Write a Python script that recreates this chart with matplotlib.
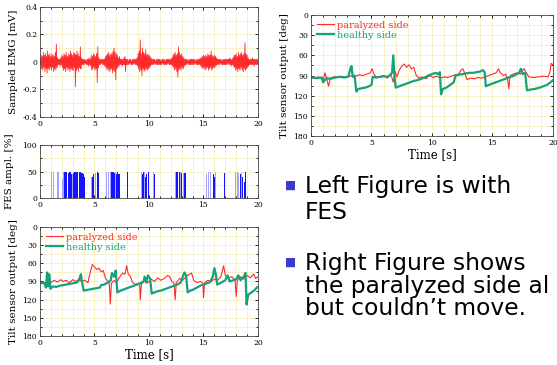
import matplotlib
matplotlib.use("Agg")
import matplotlib.pyplot as plt
from matplotlib.ticker import MultipleLocator
import numpy as np

# ---- data ----
# EMG envelope, one value every 0.1 s from 0 to 20 s
emg_top = [0.02, 0.05, 0.04, 0.07, 0.05, 0.06, 0.04, 0.08, 0.05, 0.06,
           0.04, 0.06, 0.05, 0.04, 0.07, 0.13, 0.03, 0.02, 0.02, 0.03,
           0.05, 0.04, 0.06, 0.05, 0.07, 0.04, 0.06, 0.05, 0.08, 0.06,
           0.05, 0.07, 0.06, 0.05, 0.08, 0.06, 0.04, 0.11, 0.03, 0.02,
           0.02, 0.02, 0.01, 0.02, 0.02, 0.03, 0.02, 0.05, 0.04, 0.06,
           0.05, 0.04, 0.06, 0.11, 0.03, 0.02, 0.02, 0.02, 0.02, 0.02,
           0.04, 0.05, 0.06, 0.07, 0.05, 0.06, 0.06, 0.08, 0.10, 0.07,
           0.06, 0.05, 0.03, 0.04, 0.02, 0.02, 0.02, 0.03, 0.04, 0.02,
           0.02, 0.01, 0.02, 0.02, 0.01, 0.02, 0.02, 0.02, 0.02, 0.03,
           0.06, 0.08, 0.16, 0.06, 0.10, 0.07, 0.06, 0.09, 0.05, 0.06,
           0.05, 0.04, 0.03, 0.02, 0.02, 0.02, 0.01, 0.02, 0.02, 0.02,
           0.02, 0.01, 0.02, 0.02, 0.02, 0.01, 0.02, 0.02, 0.02, 0.02,
           0.02, 0.03, 0.05, 0.06, 0.07, 0.05, 0.06, 0.11, 0.07, 0.05,
           0.06, 0.04, 0.03, 0.02, 0.02, 0.02, 0.01, 0.02, 0.02, 0.02,
           0.02, 0.02, 0.02, 0.01, 0.02, 0.02, 0.02, 0.03, 0.03, 0.04,
           0.05, 0.04, 0.05, 0.04, 0.06, 0.05, 0.05, 0.08, 0.05, 0.04,
           0.05, 0.04, 0.03, 0.02, 0.02, 0.02, 0.02, 0.01, 0.02, 0.02,
           0.02, 0.02, 0.02, 0.02, 0.03, 0.02, 0.02, 0.03, 0.05, 0.05,
           0.06, 0.04, 0.07, 0.05, 0.06, 0.07, 0.05, 0.06, 0.14, 0.06,
           0.05, 0.03, 0.02, 0.02, 0.02, 0.03, 0.02, 0.02, 0.02, 0.02, 0.02]
emg_bottom = [-0.02, -0.05, -0.06, -0.04, -0.07, -0.05, -0.08, -0.05, -0.06, -0.04,
              -0.06, -0.04, -0.07, -0.05, -0.06, -0.04, -0.02, -0.02, -0.03, -0.02,
              -0.04, -0.06, -0.05, -0.07, -0.04, -0.06, -0.05, -0.07, -0.05, -0.06,
              -0.06, -0.04, -0.18, -0.06, -0.05, -0.07, -0.04, -0.05, -0.02, -0.02,
              -0.02, -0.01, -0.02, -0.02, -0.03, -0.02, -0.03, -0.06, -0.05, -0.04,
              -0.06, -0.05, -0.15, -0.04, -0.02, -0.02, -0.01, -0.02, -0.02, -0.03,
              -0.04, -0.06, -0.05, -0.07, -0.06, -0.05, -0.08, -0.06, -0.07, -0.13,
              -0.05, -0.04, -0.03, -0.02, -0.02, -0.03, -0.02, -0.02, -0.07, -0.02,
              -0.02, -0.02, -0.01, -0.02, -0.02, -0.02, -0.01, -0.02, -0.02, -0.03,
              -0.05, -0.07, -0.06, -0.10, -0.05, -0.07, -0.06, -0.05, -0.06, -0.05,
              -0.04, -0.03, -0.02, -0.02, -0.02, -0.01, -0.02, -0.02, -0.02, -0.02,
              -0.02, -0.02, -0.01, -0.02, -0.02, -0.02, -0.02, -0.01, -0.02, -0.02,
              -0.02, -0.03, -0.04, -0.06, -0.05, -0.07, -0.11, -0.06, -0.05, -0.06,
              -0.04, -0.05, -0.03, -0.02, -0.02, -0.01, -0.02, -0.02, -0.02, -0.02,
              -0.02, -0.02, -0.01, -0.02, -0.02, -0.02, -0.02, -0.03, -0.04, -0.05,
              -0.04, -0.06, -0.05, -0.04, -0.06, -0.05, -0.04, -0.06, -0.05, -0.04,
              -0.04, -0.03, -0.02, -0.02, -0.02, -0.01, -0.02, -0.02, -0.02, -0.02,
              -0.02, -0.02, -0.01, -0.02, -0.02, -0.03, -0.02, -0.03, -0.04, -0.06,
              -0.05, -0.07, -0.05, -0.06, -0.04, -0.06, -0.07, -0.05, -0.06, -0.05,
              -0.04, -0.03, -0.02, -0.02, -0.02, -0.02, -0.03, -0.02, -0.02, -0.02, -0.02]
emg_time = np.arange(len(emg_top)) * 0.1

# FES pulses: time [s], amplitude [%]
fes_dark_t = [2.3, 2.45, 2.6, 2.75, 2.9, 3.1, 3.2, 3.3, 3.45, 3.65, 3.75, 3.85, 3.95, 4.1,
              4.8, 4.9, 5.3, 5.35, 6.6, 6.75, 6.85, 7.0, 7.1, 7.25, 8.0,
              9.4, 9.5, 9.7, 9.8, 9.95, 10.5, 12.5, 12.65, 12.8, 13.0, 13.3,
              15.9, 16.0, 16.9, 18.4, 18.6, 18.75, 18.85]
fes_dark_h = [50, 50, 48, 50, 45, 48, 50, 50, 50, 50, 50, 48, 45, 40,
              40, 45, 50, 48, 50, 50, 48, 45, 50, 45, 50,
              45, 50, 40, 45, 50, 45, 50, 50, 50, 48, 47,
              45, 40, 47, 45, 40, 30, 50]
fes_light_t = [1.05, 1.2, 1.65, 2.05, 2.2, 2.95, 4.7, 5.1, 6.1, 6.25, 6.5, 6.9,
               9.3, 9.6, 10.4, 12.4, 12.9, 13.2, 15.3, 15.5, 15.65, 16.1,
               17.95, 18.1, 18.25, 18.5]
fes_light_h = [50, 50, 50, 35, 50, 45, 40, 48, 50, 50, 50, 50,
               50, 50, 50, 50, 50, 48, 45, 50, 50, 50,
               50, 50, 48, 50]

# tilt sensor, with FES (left panel)
fes_par_t = [0.0, 0.3, 0.5, 0.7, 0.8, 0.9, 1.0, 1.3, 1.6, 1.9, 2.1, 2.4, 2.7, 3.0, 3.3, 3.6,
             3.8, 4.1, 4.4, 4.6, 4.8, 5.0, 5.2, 5.4, 5.6, 5.8, 6.0, 6.2, 6.35, 6.45, 6.55,
             6.8, 7.0, 7.2, 7.4, 7.6, 7.8, 7.95, 8.1, 8.3, 8.5, 8.8, 9.0, 9.15, 9.2, 9.3,
             9.6, 9.9, 10.2, 10.5, 10.8, 11.1, 11.4, 11.7, 11.9, 12.1, 12.3, 12.4, 12.5,
             12.8, 13.1, 13.4, 13.7, 13.9, 14.1, 14.4, 14.7, 14.95, 15.0, 15.1, 15.4,
             15.7, 16.0, 16.3, 16.6, 16.85, 17.0, 17.3, 17.6, 17.9, 18.0, 18.1, 18.4,
             18.7, 19.0, 19.3, 19.6, 19.8, 20.0]
fes_par_v = [92, 91, 93, 90, 97, 85, 92, 88, 91, 87, 90, 88, 92, 87, 90, 86,
             90, 88, 92, 75, 62, 66, 70, 68, 74, 72, 84, 90, 92, 127, 93,
             88, 92, 86, 80, 76, 78, 64, 78, 82, 92, 95, 93, 96, 120, 95,
             88, 92, 86, 90, 84, 88, 85, 80, 82, 90, 93, 120, 92,
             85, 88, 82, 78, 76, 88, 92, 90, 93, 117, 92, 88,
             90, 86, 88, 82, 64, 80, 84, 82, 88, 115, 88, 82,
             86, 80, 84, 78, 85, 82]
fes_hea_t = [0.0, 0.4, 0.55, 0.65, 0.75, 0.85, 0.95, 1.2, 1.5, 1.8, 2.1, 2.4, 2.7, 3.0,
             3.3, 3.5, 3.6, 3.75, 3.85, 4.0, 4.3, 4.6, 4.9, 5.2, 5.5, 5.6, 5.9, 6.2,
             6.5, 6.6, 6.8, 6.95, 7.1, 7.4, 7.7, 8.0, 8.3, 8.6, 8.9, 9.2, 9.5, 9.6,
             9.75, 9.9, 10.1, 10.25, 10.5, 10.8, 11.1, 11.4, 11.7, 12.0, 12.3, 12.6,
             12.9, 13.1, 13.25, 13.4, 13.55, 13.8, 14.1, 14.4, 14.7, 15.0, 15.3, 15.6,
             15.85, 16.0, 16.15, 16.25, 16.5, 16.8, 17.0, 17.2, 17.4, 17.7, 18.0, 18.2,
             18.4, 18.7, 18.85, 18.95, 19.1, 19.4, 19.7, 19.9, 20.0]
fes_hea_v = [92, 93, 100, 75, 98, 78, 102, 98, 99, 97, 96, 95, 94, 93,
             92, 90, 86, 78, 90, 105, 104, 103, 102, 101, 100, 96, 95, 92,
             88, 76, 82, 72, 108, 105, 103, 101, 99, 97, 95, 93, 90, 82,
             92, 80, 85, 110, 108, 106, 105, 103, 101, 99, 97, 95,
             92, 82, 75, 80, 108, 105, 103, 100, 97, 95, 93, 91,
             82, 68, 80, 95, 93, 90, 88, 80, 90, 88, 86, 80,
             88, 82, 76, 128, 112, 108, 104, 100, 99]

# tilt sensor, without FES (right panel)
nofes_par_t = [0.0, 0.3, 0.6, 0.9, 1.0, 1.15, 1.3, 1.45, 1.6, 1.9, 2.2, 2.5, 2.8, 3.1,
               3.4, 3.7, 4.0, 4.3, 4.6, 4.9, 5.05, 5.2, 5.4, 5.7, 6.0, 6.3, 6.6, 6.8,
               6.95, 7.1, 7.3, 7.5, 7.7, 7.9, 8.1, 8.3, 8.5, 8.7, 8.9, 9.2, 9.5, 9.8,
               10.1, 10.4, 10.7, 11.0, 11.3, 11.6, 11.9, 12.2, 12.4, 12.55, 12.7, 12.9,
               13.2, 13.5, 13.8, 14.1, 14.4, 14.7, 15.0, 15.3, 15.5, 15.65, 15.9, 16.1,
               16.25, 16.35, 16.45, 16.7, 17.0, 17.3, 17.6, 17.8, 18.0, 18.4, 18.8,
               19.2, 19.6, 19.75, 19.85, 20.0]
nofes_par_v = [93, 94, 92, 95, 100, 86, 95, 106, 94, 92, 93, 91, 93, 92,
               90, 91, 89, 90, 88, 86, 80, 88, 92, 93, 90, 94, 88, 100,
               84, 92, 82, 76, 73, 78, 74, 80, 78, 90, 94, 92, 95, 90,
               93, 91, 94, 92, 93, 91, 89, 88, 82, 80, 86, 96,
               94, 95, 93, 94, 92, 90, 88, 86, 80, 86, 90, 88,
               96, 110, 90, 88, 86, 88, 80, 86, 92, 93, 92,
               91, 92, 84, 72, 74]
nofes_hea_t = [0.0, 0.5, 0.9, 1.0, 1.3, 1.6, 2.0, 2.4, 2.8, 3.1, 3.25, 3.35, 3.45, 3.6,
               3.75, 3.9, 4.2, 4.5, 4.8, 5.0, 5.1, 5.4, 5.7, 6.0, 6.3, 6.5, 6.7, 6.8,
               6.9, 7.0, 7.3, 7.6, 7.9, 8.2, 8.5, 8.8, 9.1, 9.4, 9.7, 10.0, 10.3, 10.5,
               10.65, 10.75, 10.9, 11.2, 11.5, 11.8, 11.95, 12.2, 12.5, 12.8, 13.1, 13.4,
               13.7, 14.0, 14.2, 14.35, 14.45, 14.7, 15.0, 15.3, 15.6, 15.9, 16.2, 16.5,
               16.8, 17.0, 17.2, 17.35, 17.5, 17.7, 17.85, 18.1, 18.5, 18.9, 19.2, 19.5,
               19.8, 20.0]
nofes_hea_v = [93, 94, 93, 100, 94, 95, 93, 92, 93, 91, 80, 76, 92, 90,
               114, 110, 109, 108, 106, 104, 92, 93, 92, 91, 92, 90, 86, 60,
               90, 108, 106, 104, 102, 100, 98, 97, 95, 93, 90, 88, 86, 88,
               85, 118, 110, 108, 104, 100, 90, 89, 88, 87, 86, 86,
               85, 84, 82, 85, 106, 104, 102, 100, 98, 96, 94, 92,
               90, 88, 86, 80, 88, 86, 112, 111, 110, 108, 106, 104,
               100, 97]

RED = "#ff2a2a"
GREEN = "#14a27c"
BLUE = "#1414ff"
GRID = "#f6efbf"

plt.rcParams["font.family"] = "DejaVu Serif"
plt.rcParams["axes.unicode_minus"] = False

fig = plt.figure(figsize=(5.57, 3.65), dpi=100)


def style(ax, ymajor, yminor):
    ax.xaxis.set_major_locator(MultipleLocator(5))
    ax.xaxis.set_minor_locator(MultipleLocator(1))
    ax.yaxis.set_major_locator(MultipleLocator(ymajor))
    ax.yaxis.set_minor_locator(MultipleLocator(yminor))
    ax.tick_params(which="both", direction="in", top=True, right=True,
                   labelsize=5.5, width=0.6, pad=2)
    ax.tick_params(which="major", length=2.5)
    ax.tick_params(which="minor", length=1.3)
    ax.grid(True, which="both", color=GRID, lw=0.6)
    ax.set_axisbelow(True)
    for s in ax.spines.values():
        s.set_linewidth(0.6)
        s.set_color("#444444")
    ax.set_xlim(0, 20)


# EMG
ax1 = fig.add_axes([0.0718, 0.6795, 0.3914, 0.3014])
style(ax1, 0.2, 0.1)
zz_t = np.ravel(np.column_stack([emg_time, emg_time + 0.05]))
zz_v = np.ravel(np.column_stack([emg_top, emg_bottom]))
ax1.plot(zz_t, zz_v, color=RED, lw=0.6)
ax1.set_ylim(-0.4, 0.4)
ax1.set_yticks([-0.4, -0.2, 0, 0.2, 0.4])
ax1.set_yticklabels(["-0.4", "-0.2", "0", "0.2", "0.4"])
ax1.set_ylabel("Sampled EMG [mV]", fontsize=7.5, labelpad=3)

# FES
ax2 = fig.add_axes([0.0718, 0.4575, 0.3914, 0.1452])
style(ax2, 50, 25)
ax2.bar(fes_light_t, fes_light_h, width=0.1, color="#a4a4ff", lw=0)
ax2.bar(fes_dark_t, fes_dark_h, width=0.11, color=BLUE, lw=0)
ax2.set_ylim(0, 100)
ax2.set_ylabel("FES ampl. [%]", fontsize=7.5, labelpad=6)


def tilt(ax, pt, pv, ht, hv):
    style(ax, 30, 15)
    ax.plot(pt, pv, color=RED, lw=0.8, label="paralyzed side")
    ax.plot(ht, hv, color=GREEN, lw=1.6, label="healthy side")
    ax.set_ylim(180, 0)
    ax.set_xlabel("Time [s]", fontsize=8.5, labelpad=1)
    ax.set_ylabel("Tilt sensor output [deg]", fontsize=7.5, labelpad=3)
    ax.legend(loc="upper left", frameon=False, fontsize=7, handlelength=1.8,
              handletextpad=0.3, labelspacing=0.1, borderaxespad=0.2,
              labelcolor="linecolor")


ax3 = fig.add_axes([0.0718, 0.0795, 0.3914, 0.2986])
tilt(ax3, fes_par_t, fes_par_v, fes_hea_t, fes_hea_v)

ax4 = fig.add_axes([0.5583, 0.6274, 0.4345, 0.3315])
tilt(ax4, nofes_par_t, nofes_par_v, nofes_hea_t, nofes_hea_v)

# bullet text
lines = [("Left Figure is with", 193, True), ("FES", 219, False),
         ("Right Figure shows", 270, True), ("the paralyzed side al", 293, False),
         ("but couldn\u2019t move.", 315, False)]
for txt, ypx, bullet in lines:
    yf = 1 - ypx / 365
    fig.text(305 / 557, yf, txt, fontsize=16.8, family="DejaVu Sans",
             va="baseline", ha="left", color="black")
    if bullet:
        fig.text(285 / 557, yf + 4 / 365, "\u25a0", fontsize=8.5, family="DejaVu Sans",
                 va="baseline", ha="left", color="#3a3ad0")

fig.savefig("out.png", dpi=100)
